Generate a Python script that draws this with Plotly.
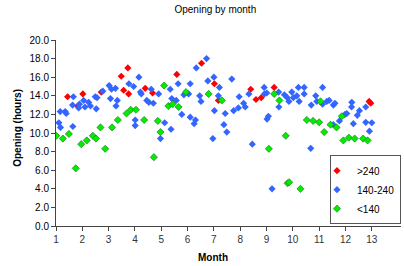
import plotly.graph_objects as go

# >240 series
red_month = [1.44, 1.82, 2.02, 2.72, 3.48, 3.73, 3.57, 3.76, 4.39, 4.67,
             5.59, 6.53, 7.02, 7.17, 8.40, 8.60, 8.80, 9.29, 12.90, 12.96]
red_hours = [13.9, 12.9, 14.2, 14.4, 16.1, 17.0, 14.6, 14.2, 14.8, 14.3,
             16.3, 17.5, 15.3, 13.5, 14.7, 13.6, 13.8, 14.9, 13.4, 13.2]

# 140-240 series
blue_month = [1.11, 1.17, 1.16, 1.35, 1.39, 1.63, 1.66, 1.64, 1.86, 1.89,
              2.05, 2.10, 2.24, 2.31, 2.53, 2.49, 2.56, 2.78, 3.02, 3.11,
              3.07, 3.26, 3.28, 3.33, 3.77, 3.95, 4.01, 4.01, 4.15, 4.21,
              4.24, 4.45, 4.53, 4.70, 4.62, 4.90, 4.97, 5.13, 5.34, 5.37,
              5.40, 5.57, 5.64, 5.78, 5.86, 6.04, 6.10, 6.10, 6.25, 6.30,
              6.33, 6.46, 6.51, 6.72, 6.77, 7.00, 7.21, 7.17, 7.02, 7.43,
              7.38, 7.49, 6.96, 7.68, 7.96, 7.75, 7.93, 8.13, 8.19, 8.33,
              8.46, 8.91, 8.92, 9.01, 9.07, 9.02, 9.21, 9.46, 9.47, 9.68,
              9.79, 9.85, 9.96, 10.02, 10.15, 10.21, 10.24, 10.43, 10.43, 10.68,
              10.70, 10.87, 10.91, 11.13, 11.13, 11.29, 11.38, 11.54, 11.60, 11.54,
              11.77, 11.98, 12.05, 12.24, 12.23, 12.30, 12.45, 12.53, 12.77, 12.77,
              13.00, 12.91]
blue_hours = [11.1, 10.6, 12.3, 12.3, 12.1, 13.0, 13.9, 10.7, 12.7, 13.1,
              13.5, 12.8, 13.3, 12.9, 12.6, 13.9, 13.8, 14.5, 15.1, 14.7,
              13.7, 14.8, 12.9, 13.5, 15.3, 15.0, 11.4, 10.8, 16.0, 14.4,
              14.2, 13.5, 13.3, 13.2, 14.7, 14.2, 9.4, 11.1, 14.7, 10.4,
              13.7, 13.5, 15.3, 12.0, 14.1, 14.2, 15.3, 11.7, 11.0, 11.4,
              17.0, 14.0, 13.4, 18.0, 15.6, 16.0, 14.9, 14.0, 12.4, 12.1,
              10.9, 10.1, 9.4, 15.8, 13.9, 12.4, 12.7, 13.2, 12.8, 14.2,
              8.8, 14.9, 14.2, 14.3, 11.8, 11.5, 4.0, 14.4, 12.8, 14.1,
              13.8, 13.4, 14.4, 13.8, 14.0, 14.9, 13.4, 14.9, 14.2, 8.35,
              13.0, 14.0, 13.4, 14.9, 13.1, 13.4, 13.5, 13.0, 13.2, 10.9,
              11.3, 12.0, 12.1, 13.3, 12.8, 11.0, 11.9, 12.4, 12.8, 11.15,
              11.1, 10.2]

# <140 series
green_month = [1.01, 1.26, 1.49, 1.75, 1.96, 2.17, 2.40, 2.52, 2.69, 2.87,
               3.13, 3.35, 3.68, 3.84, 4.04, 4.35, 4.72, 4.87, 4.97, 5.11,
               5.27, 5.43, 5.66, 5.94, 6.80, 7.30, 9.09, 9.29, 9.49, 9.73,
               9.80, 9.86, 10.29, 10.53, 10.77, 11.00, 11.05, 11.19, 11.43, 11.66,
               11.86, 11.92, 12.13, 12.35, 12.67, 12.84]
green_hours = [9.7, 9.4, 9.9, 6.2, 8.8, 9.2, 9.7, 9.4, 10.6, 8.3,
               10.6, 11.4, 12.1, 12.5, 12.5, 11.4, 7.4, 11.3, 10.1, 15.1,
               12.9, 13.1, 12.8, 14.4, 14.2, 13.5, 8.3, 14.2, 13.5, 9.7,
               4.6, 4.7, 4.0, 11.4, 11.3, 11.15, 13.4, 10.1, 10.9, 10.6,
               11.8, 9.2, 9.5, 9.4, 9.4, 9.2]

y_ticks = [0, 2, 4, 6, 8, 10, 12, 14, 16, 18, 20]
x_ticks = [1, 2, 3, 4, 5, 6, 7, 8, 9, 10, 11, 12, 13]

FONT = "Liberation Sans, Arial, sans-serif"
MSIZE = 5.5

fig = go.Figure()
fig.add_trace(go.Scatter(x=red_month, y=red_hours, mode="markers", name=">240",
                         marker=dict(symbol="diamond", size=MSIZE, color="#FF0000",
                                     line=dict(width=0))))
fig.add_trace(go.Scatter(x=blue_month, y=blue_hours, mode="markers", name="140-240",
                         marker=dict(symbol="diamond", size=MSIZE, color="#3366FF",
                                     line=dict(width=0))))
fig.add_trace(go.Scatter(x=green_month, y=green_hours, mode="markers", name="<140",
                         marker=dict(symbol="diamond", size=MSIZE, color="#00EE00",
                                     line=dict(width=0.6, color="#226622"))))

fig.update_layout(
    width=404, height=266,
    margin=dict(l=56, r=3, t=40, b=40),
    paper_bgcolor="white", plot_bgcolor="white",
    font=dict(family=FONT, size=10, color="#000000"),
    title=dict(text="Opening by month", x=0.533, xanchor="center", y=0.965,
               yanchor="middle", font=dict(size=10, color="#000000")),
    showlegend=True,
    legend=dict(x=1.0, xanchor="right", y=0.01, yanchor="bottom",
                bgcolor="white", bordercolor="#555555", borderwidth=1,
                font=dict(size=10), tracegroupgap=0, itemwidth=30,
                indentation=-14),
    xaxis=dict(range=[1, 14.11], tickvals=x_ticks, ticktext=[str(v) for v in x_ticks],
               showgrid=False, zeroline=False, showline=True, linecolor="#444444",
               linewidth=1, ticks="outside", ticklen=4, tickcolor="#444444",
               tickfont=dict(size=10, color="#333333")),
    yaxis=dict(range=[0, 20], tickvals=y_ticks, tickformat=".1f",
               showgrid=False, zeroline=False, showline=True, linecolor="#444444",
               linewidth=1, ticks="outside", ticklen=4, tickcolor="#444444",
               tickfont=dict(size=10, color="#000000")),
    annotations=[
        dict(text="<b>Month</b>", xref="paper", yref="paper", x=0.456, y=-0.167,
             xanchor="center", yanchor="middle", showarrow=False, font=dict(size=10)),
        dict(text="<b>Opening (hours)</b>", xref="paper", yref="paper", x=-0.112, y=0.53,
             xanchor="center", yanchor="middle", textangle=-90, showarrow=False,
             font=dict(size=10)),
    ],
)

fig.write_html("out.html", config={"displayModeBar": False},
               post_script="document.body.style.margin='0';document.body.style.padding='0';")
